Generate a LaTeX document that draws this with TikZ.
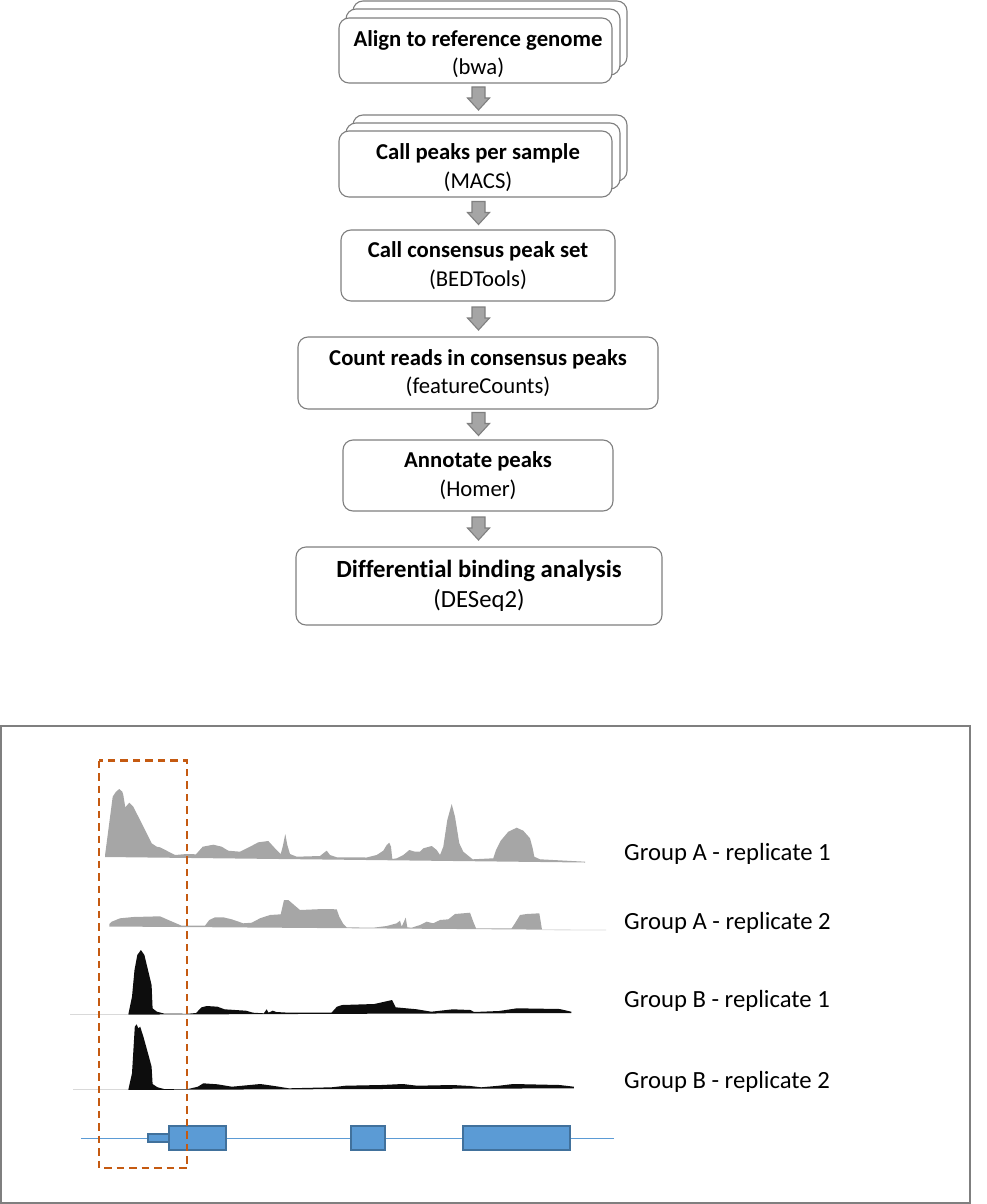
\documentclass[tikz,border=0pt]{standalone}
\usepackage{fontspec}
\setmainfont{Carlito}[Ligatures={NoCommon}]
\usetikzlibrary{calc}
\definecolor{boxline}{HTML}{7F7F7F}
\definecolor{arrfill}{HTML}{A5A5A5}
\definecolor{arrline}{HTML}{7F7F7F}
\definecolor{covgray}{HTML}{A6A6A6}
\definecolor{covblack}{HTML}{0D0D0D}
\definecolor{faint}{HTML}{D9D9D9}
\definecolor{exonfill}{HTML}{5B9BD5}
\definecolor{exonline}{HTML}{41719C}
\definecolor{dashorange}{HTML}{C55A11}
\newcommand\flowarrow[2]{%
  \coordinate (mid) at ($(#1.south)!0.5!(#2.north)$);
  \coordinate (am) at (axisx |- mid);
  \draw[blockarrow] (am) ++(-6.5,-12) -- ++(13,0) -- ++(0,11) -- ++(4.5,0) -- ++(-11,12) -- ++(-11,-12) -- ++(4.5,0) -- cycle;}
\begin{document}
\begin{tikzpicture}[x=1pt,y=-1pt,
  box/.style={draw=boxline, line width=1.1pt, rounded corners=10pt, fill=white, inner sep=0pt, align=center,
    font=\fontsize{22.7}{28.5}\selectfont},
  boxtext/.style={inner sep=0pt, align=center, font=\fontsize{22.7}{28.5}\selectfont},
  blockarrow/.style={fill=arrfill, draw=arrline, line width=1.1pt, line join=miter},
  label/.style={anchor=base west, inner sep=0pt, font=\fontsize{24.7}{29}\selectfont},
  exon/.style={fill=exonfill, draw=exonline, line width=2pt},
  covA/.style={fill=covgray, draw=none},
  covB/.style={fill=covblack, draw=none},
]
\useasboundingbox (0,0) rectangle (986,1204);
\coordinate (axisx) at (478.5,0);

% ---- stacked box 1
\node[box, minimum width=274pt, minimum height=66pt] (b1c) at (490,34) {};
\node[box, minimum width=274pt, minimum height=66pt] (b1b) at (483,42) {};
\node[box, minimum width=273pt, minimum height=65pt] (b1) at (475.5,50.5) {};
\node[boxtext] (t1) at (478,54) {\textbf{Align to reference genome}\\(bwa)};

% ---- stacked box 2
\node[box, minimum width=274pt, minimum height=66pt] (b2c) at (490,148) {};
\node[box, minimum width=274pt, minimum height=66pt] (b2b) at (483,156) {};
\node[box, minimum width=273pt, minimum height=66pt] (b2) at (475.5,164) {};
\node[boxtext] (t2) at (478,167.5) {\textbf{Call peaks per sample}\\(MACS)};

% ---- single boxes
\node[box, minimum width=274pt, minimum height=71pt] (b3) at (478,265.5) {\textbf{Call consensus peak set}\\(BEDTools)};
\node[box, minimum width=360pt, minimum height=72pt] (b4) at (478,373) {\textbf{Count reads in consensus peaks}\\(featureCounts)};
\node[box, minimum width=270pt, minimum height=71pt] (b5) at (478,475.5) {\textbf{Annotate peaks}\\(Homer)};
\node[box, minimum width=366pt, minimum height=78pt, font=\fontsize{24.7}{29.5}\selectfont] (b6) at (479,586) {\textbf{Differential binding analysis}\\(DESeq2)};

% ---- arrows
\flowarrow{b1}{b2c}
\flowarrow{b2}{b3}
\flowarrow{b3}{b4}
\flowarrow{b4}{b5}
\flowarrow{b5}{b6}

% ---- lower panel
\draw[draw=boxline, line width=1.3pt] (1,726) rectangle (970,1203);

% Group A replicate 1
\fill[covA] (105,855.5) -- (112.7,796.7) -- (116,791.7) -- (119.3,789) -- (122.3,791.7) -- (123.3,795) -- (125.3,807.3) -- (129.3,802.7) -- (133.3,806.7) -- (141.7,823.3) -- (151.7,843.3) -- (156.7,846.7) -- (160,847.3) -- (166.7,850.7) -- (175,855) -- (186.7,854) -- (196,854.3) -- (202.7,846.7) -- (213.3,844.7) -- (221.7,846.7) -- (228.3,850.7) -- (240,851.7) -- (250,846.7) -- (258.3,842.3) -- (268.3,841) -- (275,848.3) -- (280.7,854) -- (282.7,846.7) -- (285.3,834) -- (287.3,845) -- (290,854) -- (296.7,856.7) -- (320,856) -- (323.3,853.3) -- (326.7,850.7) -- (330,855) -- (336.7,857.3) -- (366.7,857.5) -- (376.7,855) -- (383.3,850.7) -- (386.7,845) -- (389.3,842.7) -- (391,846.7) -- (392.3,859) -- (396.7,858.3) -- (403.3,855) -- (409.3,850) -- (415,851.7) -- (420,851.7) -- (423.3,848.3) -- (431.7,846) -- (436.7,850) -- (440,855) -- (443.3,846.7) -- (447.3,820) -- (451.7,804) -- (455,816.7) -- (459.3,843.3) -- (463.3,851.7) -- (472.7,859.3) -- (493.3,858.3) -- (496,850) -- (500.7,840.7) -- (508.3,831.7) -- (516.7,827.7) -- (523.3,830.7) -- (530,838.3) -- (532.7,848.3) -- (534.3,856.7) -- (540,859.3) -- (585,861.7) -- (585,862.5) -- (105,857) -- cycle;

% Group A replicate 2
\fill[covA] (109.3,924) -- (111.7,921.7) -- (120,918.3) -- (133.3,917) -- (160,916.3) -- (170,920.7) -- (181.7,925.7) -- (205,925.7) -- (209.3,920) -- (215,917.3) -- (223.3,917.3) -- (231.7,919.3) -- (243.3,923.3) -- (251.7,922.7) -- (260,918.3) -- (270,915) -- (280.7,914.3) -- (284,900) -- (288.3,900) -- (300,910) -- (323.3,909) -- (336.7,909.3) -- (339.3,916.7) -- (343.3,924) -- (346.7,927.3) -- (373.3,927.7) -- (386.7,926) -- (396.7,923.3) -- (400,920.7) -- (401.7,926.7) -- (405.7,917.7) -- (407.3,927.3) -- (411.7,927.7) -- (420,925) -- (426.7,921.7) -- (433.3,923.3) -- (440,920) -- (448.3,919.3) -- (455,914) -- (470,912.7) -- (473.3,921.7) -- (476,928.3) -- (511.7,928.3) -- (515,923.3) -- (520,915) -- (526.7,914) -- (539.3,913.3) -- (540.7,921.7) -- (542,929.6) -- (109.3,926.5) -- cycle;
\draw[faint, line width=0.8pt] (542,929.8) -- (606,930);

% Group B replicate 1
\draw[faint, line width=1pt] (70,1014.2) -- (128.4,1014.2);
\fill[covB] (128.4,1014) -- (132,996.7) -- (134.5,970) -- (137.3,955) -- (140.9,950) -- (144.4,955) -- (148,970) -- (151.6,985) -- (152.6,1008.3) -- (156.9,1011.7) -- (164,1013.5) -- (187.2,1013.8) -- (196.1,1013) -- (201.5,1007.3) -- (206.8,1006) -- (217.5,1006.7) -- (224.6,1009.3) -- (235.3,1010) -- (246,1010.7) -- (253.1,1012.7) -- (263.8,1013.3) -- (266.7,1009.3) -- (268.5,1012.7) -- (272.8,1010.7) -- (276.3,1012) -- (288.8,1012.7) -- (331.5,1012.7) -- (336.9,1006.7) -- (342.2,1005) -- (374.3,1004) -- (392.1,1000) -- (395.7,1007.3) -- (417.1,1009.3) -- (431.3,1011.7) -- (452.7,1009.3) -- (470.5,1010) -- (474.1,1012) -- (499,1011) -- (516.9,1008.3) -- (559.6,1009) -- (571.4,1011.7) -- (571.4,1013) -- (128.4,1014.6) -- cycle;

% Group B replicate 2
\draw[faint, line width=1pt] (73,1089.4) -- (128.4,1089.4);
\fill[covB] (128.4,1089.3) -- (132,1073.3) -- (133.8,1043.3) -- (134.8,1026.7) -- (136.6,1024.3) -- (138.4,1028.3) -- (140.2,1026.7) -- (143.4,1036.7) -- (148,1053.3) -- (151.6,1066.7) -- (152.6,1084) -- (157.6,1087.3) -- (164,1089) -- (187.2,1089.2) -- (197.9,1086.7) -- (203.3,1083.3) -- (217.5,1084.3) -- (231.8,1086.7) -- (242.5,1085.7) -- (260.3,1084) -- (274.5,1086) -- (288.8,1088.3) -- (331.5,1087.3) -- (345.8,1085.7) -- (381.4,1085) -- (402.8,1084) -- (417.1,1085.7) -- (452.7,1085) -- (470.5,1086) -- (481.2,1087.3) -- (499,1085.7) -- (513.3,1084) -- (559.6,1085) -- (573.9,1086.7) -- (573.9,1088.3) -- (128.4,1089.9) -- cycle;

% gene model
\coordinate (gl) at (81,1138.3);
\coordinate (gr) at (614,1138.3);
\draw[exonfill, line width=1.2pt] (gl) -- (gr);
\draw[exon] (148.3,1134.3) rectangle (169,1142.3);
\draw[exon] (168.7,1126.3) rectangle (226.3,1150.3);
\draw[exon] (350.7,1126.3) rectangle (385.3,1150.3);
\draw[exon] (462.7,1126.3) rectangle (570.3,1150.3);

% highlight
\draw[dashorange, line width=2.3pt, dash pattern=on 7.5pt off 5pt] (99,760.5) rectangle (187,1168);

% labels
\node[label] (la1) at (624,860.7) {Group A - replicate 1};
\node[label] (la2) at (624,929) {Group A - replicate 2};
\node[label] (lb1) at (624,1007.3) {Group B - replicate 1};
\node[label] (lb2) at (624,1088.3) {Group B - replicate 2};
\end{tikzpicture}
\end{document}
